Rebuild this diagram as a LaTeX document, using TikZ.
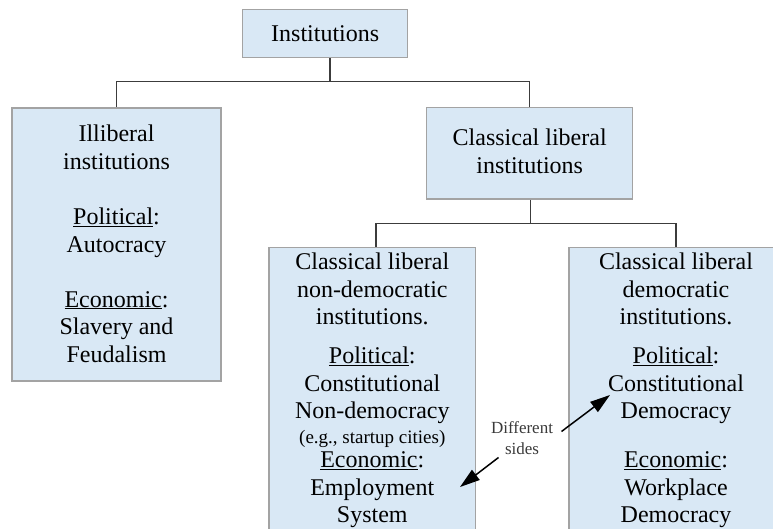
\documentclass[tikz,border=0pt]{standalone}
\usepackage{fontspec}
\setmainfont{Liberation Serif}
\usetikzlibrary{arrows.meta}
\definecolor{boxfill}{HTML}{D9E8F5}
\definecolor{boxline}{HTML}{A3A3A3}
\definecolor{connline}{HTML}{3C3C3C}
\definecolor{notegray}{HTML}{3A3A3A}
\begin{document}
\begin{tikzpicture}[x=1pt,y=-1pt,
  box/.style={draw=boxline, fill=boxfill, line width=1.5pt, inner sep=0pt},
  conn/.style={draw=connline, line width=1.3pt},
  txt/.style={anchor=base, inner sep=0pt, font=\fontsize{24}{28}\selectfont},
  smalltxt/.style={anchor=base, inner sep=0pt, font=\fontsize{19}{22}\selectfont},
  note/.style={anchor=base, inner sep=0pt, text=notegray, font=\fontsize{17}{20}\selectfont},
  pointer/.style={draw=black, line width=1.5pt, -{Triangle[length=20pt,width=12.5pt]}}]
\clip (0,0) rectangle (773,529);

% boxes
\node[box, minimum width=165pt, minimum height=48.4pt] (inst) at (325.2,33.5) {};
\node[box, minimum width=209pt, minimum height=273pt] (ill) at (116.5,244.5) {};
\node[box, minimum width=206pt, minimum height=91.7pt] (cl) at (529.7,153.2) {};
\node[box, minimum width=206.7pt, minimum height=320pt] (nd) at (372.3,407.3) {};
\node[box, minimum width=214pt, minimum height=320pt] (dm) at (676,407.3) {};

% connectors
\coordinate (j1) at (330,81.7);
\coordinate (j2) at (530.5,223.3);
\coordinate (d1) at (376,223.3);
\draw[conn] (inst.south -| j1) -- (j1);
\draw[conn] (ill.north) |- (j1) -| (cl.north);
\draw[conn] (cl.south -| j2) -- (j2);
\draw[conn] (nd.north -| d1) |- (j2) -| (dm.north);

% texts
\node[txt] (instT) at (325.2,42) {Institutions};

\node[txt] (il1) at (116.5,142) {Illiberal};
\node[txt] (il2) at (116.5,169.5) {institutions};
\node[txt] (il3) at (116.5,224.5) {\underline{Political}:};
\node[txt] (il4) at (116.5,252) {Autocracy};
\node[txt] (il5) at (116.5,307) {\underline{Economic}:};
\node[txt] (il6) at (116.5,334.5) {Slavery and};
\node[txt] (il7) at (116.5,362) {Feudalism};

\node[txt] (cl1) at (529.7,146) {Classical liberal};
\node[txt] (cl2) at (529.7,173.5) {institutions};

\node[txt] (nd1) at (372.3,269.5) {Classical liberal};
\node[txt] (nd2) at (372.3,297) {non-democratic};
\node[txt] (nd3) at (372.3,324) {institutions.};
\node[txt] (nd4) at (372.3,363.5) {\underline{Political}:};
\node[txt] (nd5) at (372.3,391) {Constitutional};
\node[txt] (nd6) at (372.3,418.5) {Non-democracy};
\node[smalltxt] (nd7) at (372.3,443.5) {(e.g., startup cities)};
\node[txt] (nd8) at (372.3,467.5) {\underline{Economic}:};
\node[txt] (nd9) at (372.3,495) {Employment};
\node[txt] (nd10) at (372.3,522) {System};

\node[txt] (dm1) at (676,269.5) {Classical liberal};
\node[txt] (dm2) at (676,297) {democratic};
\node[txt] (dm3) at (676,324) {institutions.};
\node[txt] (dm4) at (676,363.5) {\underline{Political}:};
\node[txt] (dm5) at (676,391) {Constitutional};
\node[txt] (dm6) at (676,418.5) {Democracy};
\node[txt] (dm7) at (676,467.5) {\underline{Economic}:};
\node[txt] (dm8) at (676,495) {Workplace};
\node[txt] (dm9) at (676,522) {Democracy};

% note and pointers
\node[note] (ds1) at (522,433.3) {Different};
\node[note] (ds2) at (522,454) {sides};
\coordinate (up) at (561.5,431.5);
\coordinate (uptip) at (610,395);
\coordinate (lo) at (498.5,457.5);
\coordinate (lotip) at (460,487);
\draw[pointer] (up) -- (uptip);
\draw[pointer] (lo) -- (lotip);
\end{tikzpicture}
\end{document}
